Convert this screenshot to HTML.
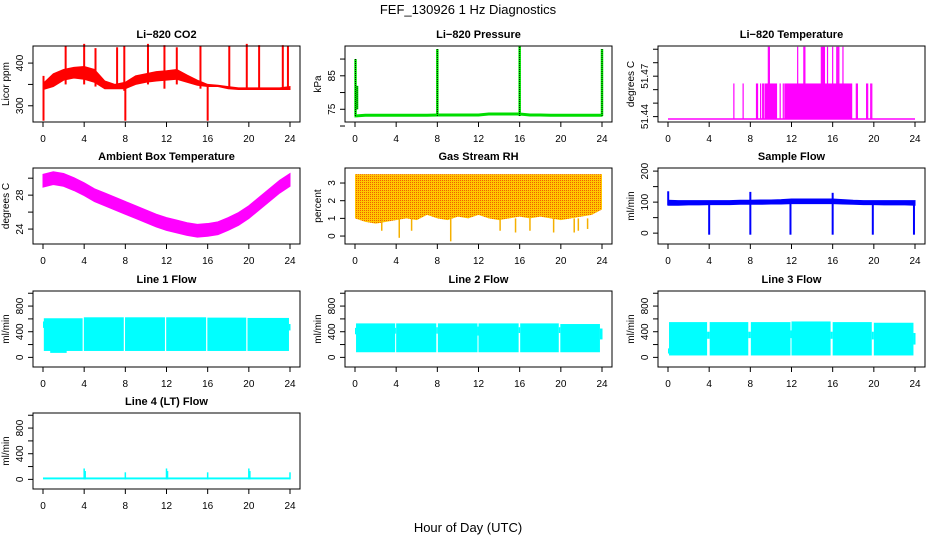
<!DOCTYPE html>
<html><head><meta charset="utf-8"><style>
html,body{margin:0;padding:0;background:#fff}
svg{display:block;font-family:"Liberation Sans",sans-serif}
</style></head><body>
<svg id="chart" width="936" height="540" viewBox="0 0 936 540">
<defs>
<pattern id="rhpat" width="2" height="2" patternUnits="userSpaceOnUse">
<rect width="2" height="2" fill="#ffc800"/><rect width="1" height="1" fill="#f06000"/>
</pattern>
</defs>
<text x="468" y="14" text-anchor="middle" font-size="13">FEF_130926  1 Hz Diagnostics</text>
<text x="468" y="532" text-anchor="middle" font-size="13">Hour of Day (UTC)</text>
<g id="panels"></g>
</svg>
<script>
// ---------- data ----------
const hours = [0,1,2,3,4,5,6,7,8,9,10,11,12,13,14,15,16,17,18,19,20,21,22,23,24];
const xTicks = [0,4,8,12,16,20,24];

const co2Hi = [352,375,385,390,392,385,358,350,355,370,375,380,382,385,372,360,350,348,345,342,342,342,342,342,345];
const co2Lo = [338,345,360,365,362,355,340,340,340,350,355,358,360,362,355,348,345,345,340,338,338,338,338,338,338];
const co2Spikes = [[0.05,265,370],[2.2,350,440],[4.0,350,445],[5.1,345,435],[7.2,340,437],[7.9,335,440],[8.0,265,350],[10.2,350,445],[11.8,340,442],[13.0,350,437],[15.3,340,440],[16.0,265,345],[18.1,340,440],[19.8,338,445],[21.0,338,442],[23.3,338,442],[23.8,338,440]];
const co2Ticks = [300,350,400];
const co2Labels = ["300","","400"];

const presBase = [73.0,73.2,73.2,73.2,73.2,73.2,73.2,73.2,73.3,73.3,73.3,73.3,73.3,73.6,73.6,73.6,73.6,73.3,73.3,73.2,73.2,73.2,73.2,73.2,73.2];
const presSpikes = [[0.05,73,90],[0.2,75,82],[8.0,73,93],[16.0,73,94],[24.0,73,93]];
const presTicks = [70,75,80,85,90];
const presLabels = ["","75","","85",""];

const tempLow = 51.4391, tempMid = 51.4523, tempHigh = 51.4659;
const tempBlocks = [[9.4,10.6],[11.3,17.9]];
const tempMidSpikes = [6.4,7.3,8.6,8.7,9.0,9.2,9.3,10.9,11.2,18.3,18.4,19.3,19.4,19.7,19.8];
const tempHighSpikes = [9.75,9.85,12.6,13.2,13.3,14.9,15.0,15.1,15.2,15.5,16.0,16.4,16.5,16.6,17.0];
const tempTicks = [51.440,51.445,51.450,51.455,51.460,51.465];
const tempLabels = ["51.44","","","51.47","",""];

const ambCenter = [29.7,30.0,29.8,29.3,28.7,28.0,27.5,27.0,26.5,26.0,25.5,25.0,24.6,24.3,24.0,23.8,23.9,24.1,24.6,25.2,26.0,27.0,28.0,29.0,29.8];
const ambHalf = 0.75;
const ambTicks = [24,26,28,30];
const ambLabels = ["24","","28",""];

const rhHi = [3.5,3.5,3.5,3.5,3.5,3.5,3.5,3.5,3.5,3.5,3.5,3.5,3.5,3.5,3.5,3.5,3.5,3.5,3.5,3.5,3.5,3.5,3.5,3.5,3.5];
const rhLo = [1.0,0.8,0.7,0.8,0.9,1.0,0.9,1.2,1.0,0.9,1.1,1.0,1.2,1.0,0.9,1.0,1.1,1.0,1.1,1.0,0.9,1.0,1.1,1.2,1.5];
const rhSpikes = [[2.6,0.3],[4.3,-0.1],[5.5,0.3],[9.3,-0.3],[14.1,0.3],[15.6,0.2],[17.0,0.3],[19.3,0.2],[21.3,0.2],[21.7,0.3],[22.6,0.4]];
const rhTicks = [0,1,2,3];
const rhLabels = ["0","1","2","3"];

const sfHi = [106,105,105,105,105,105,105,106,106,107,107,108,110,110,110,110,110,108,106,105,105,105,105,105,105];
const sfLo = [90,90,91,91,92,92,92,93,93,93,94,94,95,95,95,95,95,94,93,92,92,91,91,91,90];
const sfSpikes = [[0.02,90,135],[4.0,-5,95],[8.0,-5,133],[11.9,-5,110],[16.0,-5,130],[19.9,-5,100],[23.9,-5,100]];
const sfTicks = [0,50,100,150,200];
const sfLabels = ["0","","100","","200"];

const flowTicks = [0,200,400,600,800,1000];
const flowLabels = ["0","","400","","800",""];
// segments: [t0, t1, lo, hi]
const line1Segs = [[0,0.08,460,560],[0.08,3.85,100,610],[3.97,7.85,100,625],[7.97,11.85,100,625],[11.97,15.85,100,625],[15.97,19.75,100,620],[19.87,23.9,100,615],[23.9,24.05,420,520],[0.7,2.3,70,110]];
const line2Segs = [[0,0.1,360,460],[0.1,3.9,80,530],[3.9,4.0,370,460],[4.0,7.9,80,530],[7.9,8.05,370,470],[8.05,11.9,80,530],[11.9,12.0,340,480],[12.0,15.9,80,530],[15.9,16.05,380,470],[16.05,19.8,80,530],[19.8,19.95,380,470],[19.95,23.8,80,520],[23.8,24.05,280,450]];
const line3Segs = [[0,0.1,60,140],[0.1,3.8,30,550],[3.8,4.05,290,400],[4.05,7.8,30,550],[7.8,8.05,300,400],[8.05,11.9,30,550],[11.9,12.0,300,420],[12.0,15.8,30,560],[15.8,16.0,290,400],[16.0,19.8,30,550],[19.8,20.0,280,400],[20.0,23.85,30,540],[23.85,24.05,200,380]];
const line4Base = [[0,24,0,30]];
const line4Spikes = [[4.0,170],[4.1,130],[8.0,110],[12.0,170],[12.1,130],[16.0,110],[20.0,170],[20.1,130],[24.0,110]];

// ---------- layout ----------
const NS = "http://www.w3.org/2000/svg";
const root = document.getElementById('panels');
const colLeft = [33, 345, 658];
const boxW = 267;
const rowTop = [46, 168, 291, 413];
const boxH = 76;

function mk(tag, attrs, parent) {
  const e = document.createElementNS(NS, tag);
  for (const k in attrs) e.setAttribute(k, attrs[k]);
  (parent || root).appendChild(e);
  return e;
}

function panel(row, col, name, title, ytitle, ylim, yt, yl) {
  const L = colLeft[col], T = rowTop[row];
  const g = mk('g', {});
  
  
  const xs = t => L + 10 + t * (boxW - 20) / 24;
  const ys = v => T + boxH - (v - ylim[0]) / (ylim[1] - ylim[0]) * boxH;
  const marks = mk('g', {}, g);
  
  
  const axes = mk('g', {}, g);
  const box = mk('rect', {x: L, y: T, width: boxW, height: boxH, fill: 'none', stroke: '#000', 'stroke-width': 1}, axes);
  
  
  const tt = mk('text', {x: L + boxW / 2, y: T - 8, 'text-anchor': 'middle', 'font-size': 11, 'font-weight': 'bold'}, axes);
  tt.textContent = title;
  
  
  const xa = mk('g', {}, axes);
  
  
  xTicks.forEach(t => {
    mk('line', {x1: xs(t), x2: xs(t), y1: T + boxH, y2: T + boxH + 5, stroke: '#000'}, xa);
    const lb = mk('text', {x: xs(t), y: T + boxH + 20, 'text-anchor': 'middle', 'font-size': 10}, xa);
    lb.textContent = t;
  });
  const ya = mk('g', {}, axes);
  
  
  yt.forEach((v, i) => {
    mk('line', {x1: L - 5, x2: L, y1: ys(v), y2: ys(v), stroke: '#000'}, ya);
    if (yl[i]) {
      const lb = mk('text', {x: L - 10, y: ys(v), 'text-anchor': 'middle', 'font-size': 10, transform: `rotate(-90 ${L - 10} ${ys(v)})`}, ya);
      lb.textContent = yl[i];
    }
  });
  const yx = L - 24, ym = T + boxH / 2;
  const yti = mk('text', {x: yx, y: ym, 'text-anchor': 'middle', 'font-size': 10, transform: `rotate(-90 ${yx} ${ym})`}, axes);
  yti.textContent = ytitle;
  
  
  return {xs, ys, g: marks};
}

function band(p, lo, hi, fill) {
  let d = 'M';
  hours.forEach((t, i) => d += `${p.xs(t)},${p.ys(hi[i])} L`);
  for (let i = hours.length - 1; i >= 0; i--) d += `${p.xs(hours[i])},${p.ys(lo[i])}${i ? ' L' : ' Z'}`;
  const e = mk('path', {d, fill, stroke: fill.startsWith('url') ? 'none' : fill, 'stroke-width': 1}, p.g);
  
  
  return e;
}
function vline(p, t, a, b, color, w) {
  const e = mk('line', {x1: p.xs(t), x2: p.xs(t), y1: p.ys(a), y2: p.ys(b), stroke: color, 'stroke-width': w || 1.5}, p.g);
  
  
  return e;
}
function segs(p, list, color) {
  list.forEach(s => {
    const x0 = p.xs(s[0]), x1 = p.xs(s[1]);
    const e = mk('rect', {x: x0, y: p.ys(s[3]), width: Math.max(1, x1 - x0), height: p.ys(s[2]) - p.ys(s[3]), fill: color}, p.g);
    
    
  });
}

// CO2
let p = panel(0, 0, 'co2', 'Li\u2212820 CO2', 'Licor ppm', [262, 440], co2Ticks, co2Labels);
band(p, co2Lo, co2Hi, '#ff0000');
co2Spikes.forEach(s => vline(p, s[0], s[1], s[2], '#ff0000', 2));

// Pressure
p = panel(0, 1, 'pressure', 'Li\u2212820 Pressure', 'kPa', [71.2, 93.9], presTicks, presLabels);
band(p, presBase.map(v => v - 0.3), presBase.map(v => v + 0.3), '#00dd00');
presSpikes.forEach(s => {
  vline(p, s[0], s[1], s[2], '#00ee00', 2.5);
  const e = vline(p, s[0], s[1], s[2], '#000', 1);
  e.setAttribute('stroke-dasharray', '1,1');
});

// Li-820 Temperature
p = panel(0, 2, 'li820-temp', 'Li\u2212820 Temperature', 'degrees C', [51.438, 51.4662], tempTicks, tempLabels);
{
  const e = mk('line', {x1: p.xs(0), x2: p.xs(24), y1: p.ys(tempLow), y2: p.ys(tempLow), stroke: '#ff00ff', 'stroke-width': 1.5}, p.g);
  
  
}
tempBlocks.forEach(b => {
  const e = mk('rect', {x: p.xs(b[0]), y: p.ys(tempMid), width: p.xs(b[1]) - p.xs(b[0]), height: p.ys(tempLow) - p.ys(tempMid), fill: '#ff00ff'}, p.g);
  
  
});
tempMidSpikes.forEach(t => vline(p, t, tempLow, tempMid, '#ff00ff', 1.2));
tempHighSpikes.forEach(t => vline(p, t, tempLow, tempHigh, '#ff00ff', 1.2));

// Ambient
p = panel(1, 0, 'ambient-temp', 'Ambient Box Temperature', 'degrees C', [22.24, 31.2], ambTicks, ambLabels);
band(p, ambCenter.map(v => v - ambHalf), ambCenter.map(v => v + ambHalf), '#ff00ff');

// RH
p = panel(1, 1, 'gas-rh', 'Gas Stream RH', 'percent', [-0.45, 3.85], rhTicks, rhLabels);
band(p, rhLo, rhHi, 'url(#rhpat)');
rhSpikes.forEach(s => vline(p, s[0], s[1], 1.0, '#f5b000', 1.5));

// Sample flow
p = panel(1, 2, 'sample-flow', 'Sample Flow', 'ml/min', [-35, 210], sfTicks, sfLabels);
band(p, sfLo, sfHi, '#0000ff');
sfSpikes.forEach(s => vline(p, s[0], s[1], s[2], '#0000ff', 2));

// Line flows
p = panel(2, 0, 'line1-flow', 'Line 1 Flow', 'ml/min', [-150, 1035], flowTicks, flowLabels);
segs(p, line1Segs, '#00ffff');
p = panel(2, 1, 'line2-flow', 'Line 2 Flow', 'ml/min', [-150, 1035], flowTicks, flowLabels);
segs(p, line2Segs, '#00ffff');
p = panel(2, 2, 'line3-flow', 'Line 3 Flow', 'ml/min', [-150, 1035], flowTicks, flowLabels);
segs(p, line3Segs, '#00ffff');
p = panel(3, 0, 'line4-flow', 'Line 4 (LT) Flow', 'ml/min', [-150, 1035], flowTicks, flowLabels);
segs(p, line4Base, '#00ffff');
line4Spikes.forEach(s => vline(p, s[0], 0, s[1], '#00ffff', 1.5));
</script>
</body></html>
